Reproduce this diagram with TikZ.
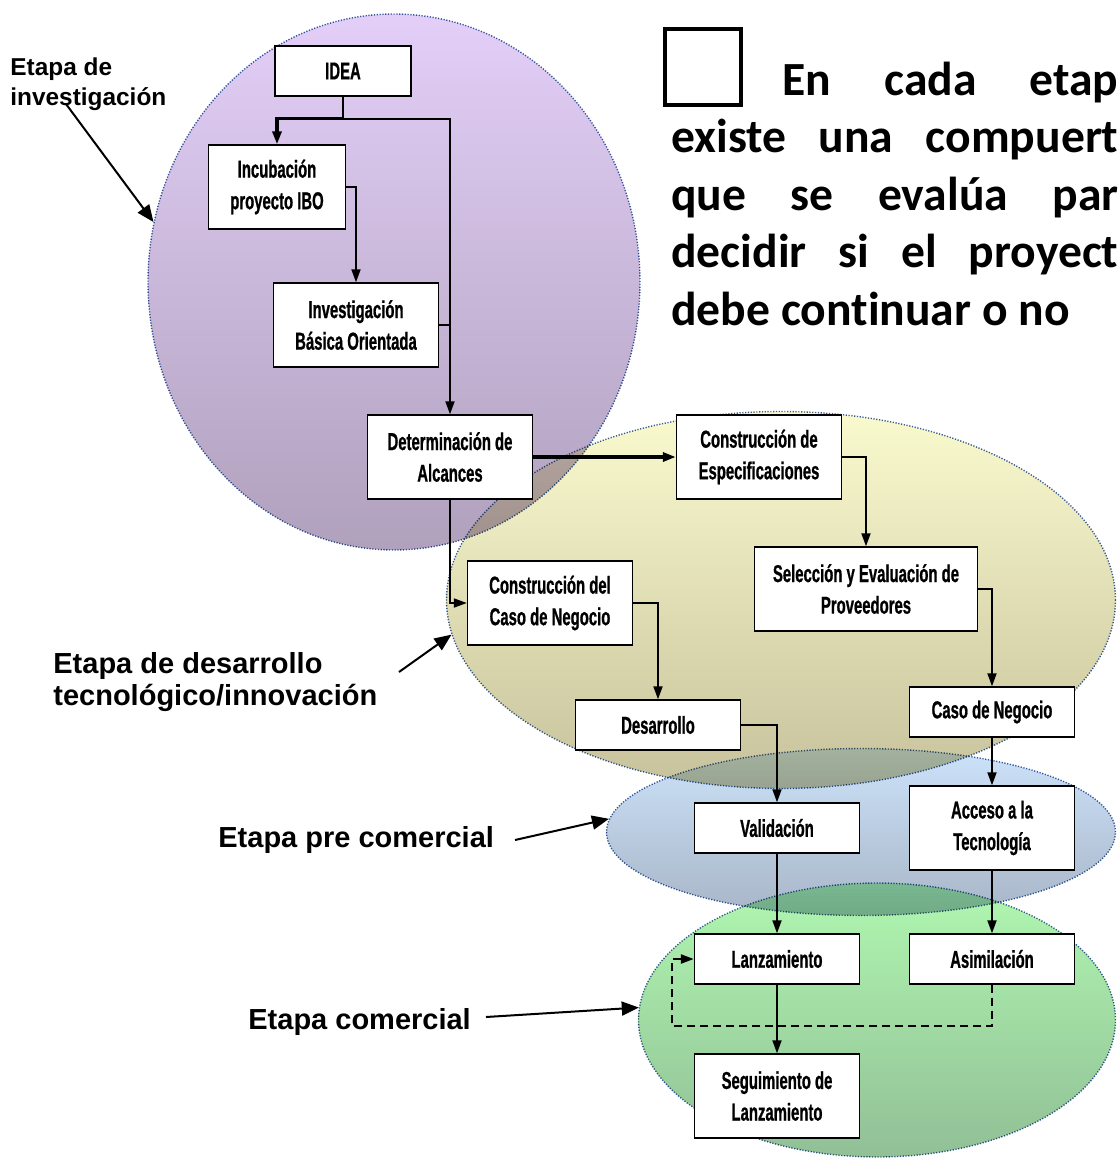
\documentclass[tikz,border=0pt]{standalone}
\usepackage{fontspec}
\usepackage{tikz}
\usetikzlibrary{arrows.meta,shapes.geometric}
\newfontfamily\boxfont[FakeStretch=0.61,FakeBold=0.8]{Liberation Sans}
\newfontfamily\labelfont{Liberation Sans}
\newfontfamily\notefont[Ligatures=NoCommon]{Carlito}
\definecolor{lilaclight}{rgb}{0.89, 0.81, 0.97}
\definecolor{lilacdark}{rgb}{0.69, 0.63, 0.74}
\definecolor{sandlight}{rgb}{0.98, 0.98, 0.81}
\definecolor{sanddark}{rgb}{0.78, 0.76, 0.61}
\definecolor{skylight}{rgb}{0.80, 0.89, 0.98}
\definecolor{skydark}{rgb}{0.66, 0.71, 0.78}
\definecolor{mintlight}{rgb}{0.69, 0.97, 0.69}
\definecolor{mintdark}{rgb}{0.57, 0.75, 0.59}
\definecolor{rimblue}{rgb}{0.22, 0.37, 0.63}

\begin{document}
\begin{tikzpicture}[x=0.5pt, y=-0.5pt,
    stage/.style={ellipse, inner sep=0pt, draw=rimblue, line width=0.7pt,
      dash pattern=on 0.6pt off 0.8pt, shading angle=45},
    stepbox/.style={draw, fill=white, line width=0.7pt, minimum width=82.5pt,
      minimum height=25pt, inner sep=0pt, align=center,
      font=\boxfont\bfseries\fontsize{12.2}{15.8}\selectfont},
    tallbox/.style={stepbox, minimum height=42pt},
    link/.style={line width=0.9pt, -{Triangle[length=6.5pt,width=4.5pt]}},
    boldlink/.style={link, line width=1.6pt},
    dashlink/.style={link, line width=1.2pt, dash pattern=on 4pt off 2.5pt},
    tag/.style={font=\labelfont\bfseries\fontsize{14.5}{16}\selectfont,
      inner sep=0pt, align=left},
    tagarrow/.style={line width=1pt, -{Triangle[length=8.5pt,width=7pt]}},
    notetext/.style={anchor=base west, inner sep=0pt,
      font=\notefont\bfseries\fontsize{23.8}{28.75}\selectfont}]
    \useasboundingbox (0,0) rectangle (1118,1158);

    % etapas
    \begin{scope}[blend mode=multiply]
      \node[stage, minimum width=246pt, minimum height=268pt,
        top color=lilaclight, bottom color=lilacdark] (invest) at (394,282) {};
      \node[stage, minimum width=334.5pt, minimum height=188.5pt,
        top color=sandlight, bottom color=sanddark] (tecno) at (781,600) {};
      \node[stage, minimum width=254.5pt, minimum height=83.5pt,
        top color=skylight, bottom color=skydark] (precom) at (861,832) {};
      \node[stage, minimum width=238.5pt, minimum height=137pt,
        top color=mintlight, bottom color=mintdark] (comer) at (877,1020) {};
    \end{scope}

    \node[stepbox, minimum width=68pt] (idea) at (343,71) {IDEA};
    \node[tallbox, minimum width=68.5pt] (incub) at (277,187) {Incubación\\proyecto IBO};
    \node[tallbox] (basica) at (356,325) {Investigación\\Básica Orientada};
    \node[tallbox] (alcance) at (450,457) {Determinación de\\Alcances};
    \node[tallbox] (especif) at (759,457) {Construcción de\\Especificaciones};
    \node[tallbox] (casoneg) at (550,603) {Construcción del\\Caso de Negocio};
    \node[tallbox, minimum width=111.5pt] (provee) at (866,589) {Selección y Evaluación de\\Proveedores};
    \node[stepbox] (desarr) at (658,725) {Desarrollo};
    \node[stepbox] (negocio) at (992,712) {Caso de Negocio};
    \node[stepbox] (valid) at (777,828) {Validación};
    \node[tallbox] (acceso) at (992,828) {Acceso a la\\Tecnología};
    \node[stepbox] (lanza) at (777,959) {Lanzamiento};
    \node[stepbox] (asimil) at (992,959) {Asimilación};
    \node[tallbox] (seguim) at (777,1096) {Seguimiento de\\Lanzamiento};

    \draw[line width=0.9pt] (idea.south) -- ++(0,22) coordinate (fork);
    \draw[boldlink] (fork) -| (incub.north);
    \draw[link] (fork) -| (alcance.north);
    \draw[link] (incub.east) -| (basica.north);
    \draw[line width=0.9pt] (basica.east) -- (basica.east -| alcance.north);
    \draw[boldlink] (alcance.east) -- (especif.west);
    \draw[link] (alcance.south) |- (casoneg.west);
    \draw[link] (especif.east) -| (provee.north);
    \draw[link] (casoneg.east) -| (desarr.north);
    \draw[link] (provee.east) -| (negocio.north);
    \draw[link] (desarr.east) -| (valid.north);
    \draw[link] (negocio) -- (acceso);
    \draw[link] (valid) -- (lanza);
    \draw[link] (acceso) -- (asimil);
    \draw[link] (lanza) -- (seguim);
    \coordinate (loop) at (672,1026);
    \draw[dashlink] (asimil.south) |- (loop) |- (lanza.west);

    % rotulos
    \node[tag, font=\labelfont\bfseries\fontsize{12.2}{15}\selectfont,
      anchor=north west] (tinv) at (10,57) {Etapa de\\investigación};
    \node[tag, anchor=north west] (tdes) at (53,652) {Etapa de desarrollo\\tecnológico/innovación};
    \node[tag, anchor=west] (tpre) at (218,840) {Etapa pre comercial};
    \node[tag, anchor=west] (tcom) at (248,1022) {Etapa comercial};

    \coordinate (tinvfoot) at (66,104);
    \coordinate (tdesfoot) at (399,672);
    \coordinate (tprefoot) at (515,840);
    \coordinate (tcomfoot) at (486,1017);
    \draw[tagarrow] (tinvfoot) -- (invest.166);
    \draw[tagarrow] (tdesfoot) -- (tecno.186);
    \draw[tagarrow] (tprefoot) -- (precom.177);
    \draw[tagarrow] (tcomfoot) -- (comer.177);

    \node[draw, line width=2pt, minimum size=38pt, inner sep=0pt] (gate) at (703,66.5) {};
    \node[notetext] (note1) at (782,95) {\makebox[168pt][s]{En cada etap}};
    \node[notetext] (note2) at (671,152) {\makebox[223.5pt][s]{existe una compuert}};
    \node[notetext] (note3) at (671,210) {\makebox[223.5pt][s]{que se evalúa par}};
    \node[notetext] (note4) at (671,267) {\makebox[223.5pt][s]{decidir si el proyect}};
    \node[notetext] (note5) at (671,325) {debe continuar o no};
  \end{tikzpicture}
\end{document}
